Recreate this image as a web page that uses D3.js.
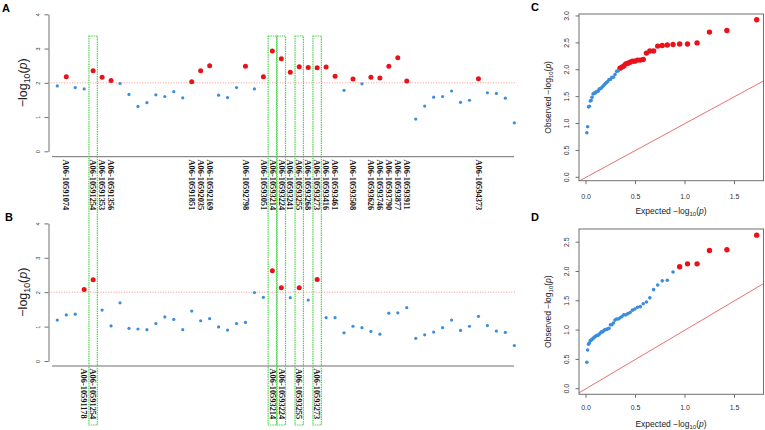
<!DOCTYPE html>
<html><head><meta charset="utf-8">
<script src="https://cdn.jsdelivr.net/npm/d3@7"></script>
<style>body{margin:0;background:#fff}svg{display:block}</style>
</head><body><svg id="c" width="765" height="430"></svg>
<script>
// ---------- DATA ----------
const valuesA = [1.91,2.18,1.86,1.82,2.35,2.16,2.07,1.98,1.66,1.31,1.42,1.65,1.60,1.74,1.56,2.03,2.35,2.50,1.64,1.57,1.86,2.48,1.82,
  2.18,2.93,2.70,2.31,2.47,2.45,2.44,2.46,2.19,1.78,2.11,1.97,2.16,2.14,2.48,2.73,2.05,0.94,1.32,1.58,1.60,1.76,1.43,1.49,2.12,1.71,1.69,1.55,0.83];
const valuesB = [1.19,1.34,1.36,2.08,2.36,1.48,1.02,1.69,0.95,0.93,0.91,1.09,1.28,1.21,0.91,1.45,1.17,1.23,0.99,0.90,1.09,1.12,1.99,
  1.85,2.62,2.13,1.84,2.13,1.77,2.37,1.26,1.26,0.82,1.01,0.97,0.86,0.78,1.39,1.40,1.55,0.66,0.76,0.84,0.97,1.19,0.89,1.01,1.30,1.03,0.87,0.83,0.45];
const labelIndexA = [1,4,5,6,15,16,17,21,23,24,25,26,27,28,29,30,31,33,35,36,37,38,39,47];
const labelNamesA = ["A06-10591074","A06-10591254","A06-10591353","A06-10591356","A06-10591851","A06-10592035","A06-10592169","A06-10592798",
  "A06-10593051","A06-10593214","A06-10593224","A06-10593241","A06-10593255","A06-10593268","A06-10593273","A06-10593416","A06-10593461",
  "A06-10593508","A06-10593626","A06-10593746","A06-10593790","A06-10593877","A06-10593911","A06-10594373"];
const labelIndexB = [3,4,24,25,27,29];
const labelNamesB = ["A06-10591178","A06-10591254","A06-10593214","A06-10593224","A06-10593255","A06-10593273"];
const highlightIndex = [4,24,25,27,29];
const threshold = 2;
const manhattanTicks = [0,1,2,3,4];
const qqXTicks = [0,0.5,1,1.5];
const qqYTicksC = [0,0.5,1,1.5,2,2.5,3];
const qqYTicksD = [0,0.5,1,1.5,2,2.5];

// ---------- STYLE ----------
const RED = "#E8121A", BLUE = "#3B8DDD", GREEN = "#4CD64C", AXIS = "#6e6e6e";
const SANS = "'Liberation Sans', Arial, sans-serif";
const SERIF = "'Liberation Serif', 'Times New Roman', serif";
const svg = d3.select("#c");

const xM = d3.scaleLinear().domain([0, valuesA.length - 1]).range([57.3, 514.3]);

function panelLetter(t, x, y) {
  svg.append("text").attr("x", x).attr("y", y).text(t)
    .style("font-family", SANS).style("font-weight", "bold").style("font-size", "11px");
}

function logTitle(g, x, y, size, prefix) {
  const t = g.append("text").attr("transform", `translate(${x},${y}) rotate(-90)`)
    .attr("text-anchor", "middle").style("font-family", SANS).style("font-size", size + "px").attr("fill", "#222");
  t.append("tspan").text(prefix + "\u2212log");
  t.append("tspan").attr("dy", size * 0.25).style("font-size", (size * 0.7) + "px").text("10");
  t.append("tspan").attr("dy", -size * 0.25).text("(");
  t.append("tspan").style("font-style", "italic").text("p");
  t.append("tspan").text(")");
  return t;
}

function manhattan(vals, y0, y4, axisY, labelTop, labIdx, labNames) {
  const g = svg.append("g");
  const y = d3.scaleLinear().domain([0, 4]).range([y0, y4]);
  const ax = g.append("g").attr("transform", "translate(48.5,0)")
    .call(d3.axisLeft(y).tickValues(manhattanTicks).tickSize(4).tickSizeOuter(0).tickFormat(d3.format("d")));
  ax.select(".domain").attr("stroke", AXIS);
  ax.selectAll(".tick line").attr("stroke", AXIS);
  ax.selectAll(".tick text").attr("x", null).attr("dy", null)
    .attr("transform", "translate(-9,0) rotate(-90)").attr("text-anchor", "middle")
    .style("font-size", "5.5px").style("font-family", SANS).attr("fill", "#333");
  g.append("line").attr("x1", 52).attr("x2", 514).attr("y1", axisY).attr("y2", axisY)
    .attr("stroke", AXIS).attr("stroke-width", 1);
  g.append("line").attr("x1", 48.5).attr("x2", 515).attr("y1", y(threshold)).attr("y2", y(threshold))
    .attr("stroke", "#F07A7A").attr("stroke-width", 0.8).attr("stroke-dasharray", "1,1.6");
  g.selectAll("circle").data(vals).join("circle")
    .attr("cx", (d, i) => xM(i)).attr("cy", d => y(d))
    .attr("r", d => d > threshold ? 2.5 : 1.6)
    .attr("fill", d => d > threshold ? RED : BLUE);
  g.selectAll("text.lab").data(labIdx).join("text").attr("class", "lab")
    .attr("transform", d => `translate(${xM(d)},${labelTop}) rotate(90)`)
    .attr("dy", "0.33em").text((d, k) => labNames[k])
    .style("font-family", SERIF).style("font-weight", "bold").style("font-size", "8.4px").attr("fill", "#111");
  logTitle(g, 26.5, (y0 + y4) / 2, 12.5, "");
}

manhattan(valuesA, 151.3, 14.3, 156.7, 159.5, labelIndexA, labelNamesA);
manhattan(valuesB, 361, 223.4, 366, 368.5, labelIndexB, labelNamesB);

// highlight boxes spanning both panels
svg.append("g").selectAll("rect").data(highlightIndex).join("rect")
  .attr("x", d => xM(d) - 4.2).attr("width", 8.4).attr("y", 36).attr("height", 389)
  .attr("fill", "none").attr("stroke", GREEN).attr("stroke-width", 1.2).attr("stroke-dasharray", "1.5,0.8");

panelLetter("A", 2, 11.5);
panelLetter("B", 5, 221);

// ---------- QQ plots ----------
function qq(vals, id, top, bottom, ydom, yTicks, tickLabY, titleY) {
  const g = svg.append("g");
  const n = vals.length;
  const obs = vals.slice().sort((a, b) => b - a);
  const pts = obs.map((o, i) => ({ e: -Math.log10((i + 1) / (n + 1)), o }));
  const x = d3.scaleLinear().domain([-0.0707, 1.793]).range([579, 763.5]);
  const y = d3.scaleLinear().domain(ydom).range([bottom, top]);
  g.append("clipPath").attr("id", id).append("rect")
    .attr("x", 579).attr("y", top).attr("width", 763.5 - 579).attr("height", bottom - top);
  g.append("line").attr("clip-path", `url(#${id})`)
    .attr("x1", x(-0.0707)).attr("y1", y(-0.0707)).attr("x2", x(1.793)).attr("y2", y(1.793))
    .attr("stroke", "#E56060").attr("stroke-width", 0.9);
  g.append("rect").attr("x", 579).attr("y", top).attr("width", 763.5 - 579).attr("height", bottom - top)
    .attr("fill", "none").attr("stroke", AXIS).attr("stroke-width", 1);
  // x ticks
  const xt = g.append("g");
  xt.selectAll("line").data(qqXTicks).join("line")
    .attr("x1", d => x(d)).attr("x2", d => x(d)).attr("y1", bottom).attr("y2", bottom + 3.5).attr("stroke", AXIS);
  xt.selectAll("text").data(qqXTicks).join("text")
    .attr("x", d => x(d)).attr("y", tickLabY).attr("text-anchor", "middle").text(d => d.toFixed(1))
    .style("font-family", SANS).style("font-size", "7px").attr("fill", "#333");
  const yt = g.append("g");
  yt.selectAll("line").data(yTicks).join("line")
    .attr("y1", d => y(d)).attr("y2", d => y(d)).attr("x1", 579).attr("x2", 575.5).attr("stroke", AXIS);
  yt.selectAll("text").data(yTicks).join("text")
    .attr("transform", d => `translate(568.5,${y(d)}) rotate(-90)`).attr("text-anchor", "middle").text(d => d.toFixed(1))
    .style("font-family", SANS).style("font-size", "7px").attr("fill", "#333");
  g.selectAll("circle").data(pts).join("circle")
    .attr("cx", d => x(d.e)).attr("cy", d => y(d.o))
    .attr("r", d => d.o > threshold ? 2.7 : 1.8)
    .attr("fill", d => d.o > threshold ? RED : BLUE);
  // titles
  const xtl = g.append("text").attr("x", 671).attr("y", titleY).attr("text-anchor", "middle")
    .style("font-family", SANS).style("font-size", "8.5px").attr("fill", "#222");
  xtl.append("tspan").text("Expected  \u2212log");
  xtl.append("tspan").attr("dy", 2).style("font-size", "6px").text("10");
  xtl.append("tspan").attr("dy", -2).text("(");
  xtl.append("tspan").style("font-style", "italic").text("p");
  xtl.append("tspan").text(")");
  const ytl = g.append("text").attr("transform", `translate(551,${(top + bottom) / 2}) rotate(-90)`).attr("text-anchor", "middle")
    .style("font-family", SANS).style("font-size", "8.5px").attr("fill", "#222");
  ytl.append("tspan").text("Observed  \u2212log");
  ytl.append("tspan").attr("dy", 2).style("font-size", "6px").text("10");
  ytl.append("tspan").attr("dy", -2).text("(");
  ytl.append("tspan").style("font-style", "italic").text("p");
  ytl.append("tspan").text(")");
}

qq(valuesA, "clipC", 14, 180.7, [-0.063, 3.037], qqYTicksC, 198.5, 213.5);
qq(valuesB, "clipD", 229, 394.3, [-0.096, 2.725], qqYTicksD, 410, 426.5);
panelLetter("C", 531, 10.5);
panelLetter("D", 531, 221);
</script></body></html>
